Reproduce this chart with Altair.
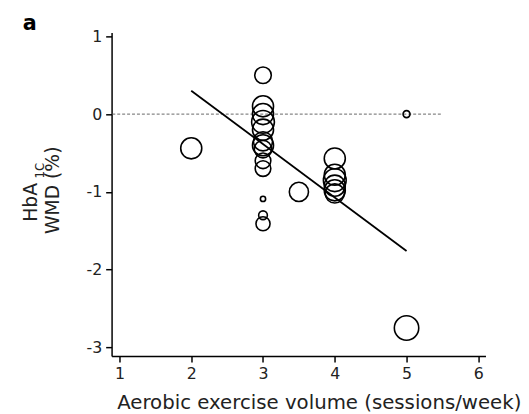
import altair as alt
import pandas as pd

# study-level data (x = sessions/week, y = HbA1c WMD %, w = relative weight)
sessions = [2, 3, 3, 3, 3, 3, 3, 3, 3, 3, 3, 3, 3, 3, 3.5, 4, 4, 4, 4, 4, 4, 5, 5]
wmd = [-0.44, 0.5, 0.1, 0.0, -0.1, -0.2, -0.35, -0.4, -0.45, -0.6, -0.7, -1.09, -1.3, -1.41,
       -1.0, -0.57, -0.78, -0.85, -0.92, -0.98, -1.02, 0.0, -2.75]
weight = [5.8, 3.6, 5.8, 5.8, 6.8, 5.8, 4.8, 5.8, 4.0, 3.2, 3.2, 0.36, 1.0, 2.6,
          4.8, 5.8, 5.8, 6.8, 5.8, 5.8, 4.8, 0.64, 7.8]

# meta-regression line endpoints
line_x = [2, 5]
line_y = [0.30, -1.76]

# reference line
ref_x = [0.9, 5.5]
ref_y = [0, 0]

x_ticks = [1, 2, 3, 4, 5, 6]
y_ticks = [1, 0, -1, -2, -3]

pts = pd.DataFrame({"x": sessions, "y": wmd, "w": weight})
ln = pd.DataFrame({"x": line_x, "y": line_y})
rf = pd.DataFrame({"x": ref_x, "y": ref_y})

font = "DejaVu Sans"
xscale = alt.Scale(domain=[0.89, 6.1], nice=False, zero=False)
yscale = alt.Scale(domain=[-3.11, 1.05], nice=False, zero=False)

hyphen_label = "datum.value < 0 ? '-' + abs(datum.value) : '' + datum.value"

xaxis = alt.Axis(values=x_ticks, labelExpr=hyphen_label, grid=False, domainColor="black",
                 domainWidth=1.5, tickColor="black", tickWidth=1.5, tickSize=6, labelFont=font,
                 labelFontSize=16, labelColor="#222", labelPadding=4,
                 title="Aerobic exercise volume (sessions/week)", titleFont=font,
                 titleFontSize=20, titleFontWeight="normal", titleColor="#222",
                 titleX=210, titleY=53, titleAnchor="middle", titleBaseline="alphabetic")
yaxis = alt.Axis(values=y_ticks, labelExpr=hyphen_label, grid=False, domainColor="black",
                 domainWidth=1.5, tickColor="black", tickWidth=1.5, tickSize=6, labelFont=font,
                 labelFontSize=16, labelColor="#222", labelPadding=4, title=None)

ref = alt.Chart(rf).mark_line(color="#666", strokeDash=[3, 2], strokeWidth=1).encode(
    x=alt.X("x:Q", scale=xscale, axis=xaxis),
    y=alt.Y("y:Q", scale=yscale, axis=yaxis),
)

circles = alt.Chart(pts).mark_point(shape="circle", filled=False, color="black",
                                    strokeWidth=1.6, opacity=1).encode(
    x=alt.X("x:Q", scale=xscale),
    y=alt.Y("y:Q", scale=yscale),
    size=alt.Size("w:Q", scale=alt.Scale(domain=[0, 10], range=[0, 785]), legend=None),
)

reg = alt.Chart(ln).mark_line(color="black", strokeWidth=1.8).encode(
    x=alt.X("x:Q", scale=xscale),
    y=alt.Y("y:Q", scale=yscale),
)

panel = alt.Chart(pd.DataFrame({"t": ["a"]})).mark_text(
    font=font, fontSize=21, fontWeight="bold", align="left", baseline="alphabetic",
    color="black").encode(x=alt.value(-90), y=alt.value(-2), text="t:N")

yt1 = alt.Chart(pd.DataFrame({"t": ["HbA"]})).mark_text(
    font=font, fontSize=19, angle=270, align="left", baseline="middle", color="#222").encode(
    x=alt.value(-82), y=alt.value(192), text="t:N")
yt1s = alt.Chart(pd.DataFrame({"t": ["1C"]})).mark_text(
    font=font, fontSize=12, angle=270, align="left", baseline="middle", color="#222").encode(
    x=alt.value(-73), y=alt.value(148), text="t:N")
yt2 = alt.Chart(pd.DataFrame({"t": ["WMD (%)"]})).mark_text(
    font=font, fontSize=19, angle=270, align="center", baseline="middle", color="#222").encode(
    x=alt.value(-59), y=alt.value(160), text="t:N")

chart = alt.layer(ref, reg, circles, panel, yt1, yt1s, yt2).properties(
    width=379, height=328,
    background="white",
    autosize=alt.AutoSizeParams(type="none"),
    padding={"left": 105, "top": 22, "right": 36, "bottom": 56},
).configure_view(stroke=None)

chart.save("out.html", embed_options={"renderer": "svg", "actions": False})
